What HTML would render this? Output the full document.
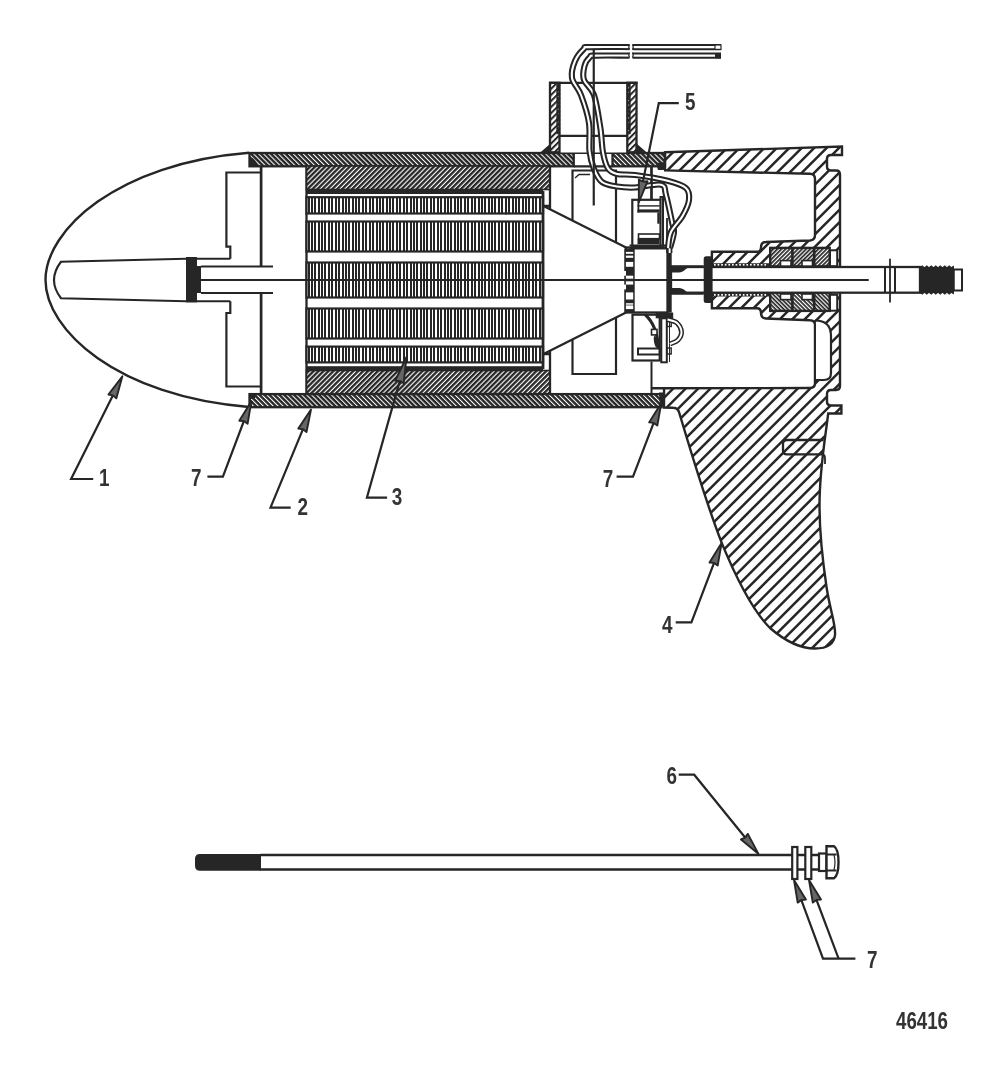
<!DOCTYPE html>
<html><head><meta charset="utf-8">
<style>
html,body{margin:0;padding:0;background:#fff;}
body{width:1008px;height:1076px;overflow:hidden;}
svg{display:block;}
text{font-family:"Liberation Sans",sans-serif;font-weight:bold;fill:#333;}
</style></head>
<body>
<svg width="1008" height="1076" viewBox="0 0 1008 1076">
<defs>
<pattern id="hH" patternUnits="userSpaceOnUse" width="3.5" height="3.5" patternTransform="rotate(45)"><rect width="3.5" height="3.5" fill="#fff"/><rect width="3.5" height="2.45" fill="#262626"/></pattern>
<pattern id="hM" patternUnits="userSpaceOnUse" width="3.5" height="3.5" patternTransform="rotate(-45)"><rect width="3.5" height="3.5" fill="#fff"/><rect width="3.5" height="2.35" fill="#262626"/></pattern>
<pattern id="hL" patternUnits="userSpaceOnUse" width="8.8" height="8.8" patternTransform="rotate(-45)"><rect width="8.8" height="8.8" fill="#fff"/><rect width="8.8" height="2.5" fill="#262626"/></pattern>
<pattern id="hS" patternUnits="userSpaceOnUse" width="6.5" height="6.5" patternTransform="rotate(-45)"><rect width="6.5" height="6.5" fill="#fff"/><rect width="6.5" height="2.3" fill="#262626"/></pattern>
<pattern id="hA" patternUnits="userSpaceOnUse" width="3.5" height="10"><rect width="3.5" height="10" fill="#fff"/><rect width="2.3" height="10" fill="#262626"/></pattern>
<pattern id="hH2" patternUnits="userSpaceOnUse" width="3.5" height="3.5" patternTransform="rotate(45)"><rect width="3.5" height="3.5" fill="#fff"/><rect width="3.5" height="1.7" fill="#262626"/></pattern>
<pattern id="hB" patternUnits="userSpaceOnUse" width="2.9" height="2.9" patternTransform="rotate(-45)"><rect width="2.9" height="2.9" fill="#fff"/><rect width="2.9" height="1.7" fill="#262626"/></pattern>
<pattern id="hB2" patternUnits="userSpaceOnUse" width="2.9" height="2.9" patternTransform="rotate(45)"><rect width="2.9" height="2.9" fill="#fff"/><rect width="2.9" height="1.7" fill="#262626"/></pattern>
<pattern id="hT" patternUnits="userSpaceOnUse" width="4.3" height="4.3" patternTransform="rotate(-45)"><rect width="4.3" height="4.3" fill="#fff"/><rect width="4.3" height="2" fill="#262626"/></pattern>
</defs>
<clipPath id="cp1"><path d="M665,152.3 L842,146.5 L842,155 L831,155 Q827,155 827,159 L827,166.5 Q827,170.5 831,170.5 L836,170.5 Q840,170.5 840,174.5 L840,386 Q840,390 836,390 L831,390 Q827,390 827,394 L827,401.5 Q827,405.5 831,405.5 L841.4,405.5 L841.4,413.5 L828.2,413.5 C825,440 819.5,470 819.5,505 C819.5,540 824,570 826.6,587.5 C830,610 836,625 835,635 C834,645 826,648.5 815,648.5 C800,648.5 785,641 770,628 C752,610 735,575 722,543.6 C705,500 692,455 679,412 Q677.5,407.7 673,407.7 L664,407.5 Z"/></clipPath>
<path d="M665,152.3 L842,146.5 L842,155 L831,155 Q827,155 827,159 L827,166.5 Q827,170.5 831,170.5 L836,170.5 Q840,170.5 840,174.5 L840,386 Q840,390 836,390 L831,390 Q827,390 827,394 L827,401.5 Q827,405.5 831,405.5 L841.4,405.5 L841.4,413.5 L828.2,413.5 C825,440 819.5,470 819.5,505 C819.5,540 824,570 826.6,587.5 C830,610 836,625 835,635 C834,645 826,648.5 815,648.5 C800,648.5 785,641 770,628 C752,610 735,575 722,543.6 C705,500 692,455 679,412 Q677.5,407.7 673,407.7 L664,407.5 Z" fill="#fff"/>
<g clip-path="url(#cp1)"><path d="M140.30,660.00L660.30,140.00M152.75,660.00L672.75,140.00M165.20,660.00L685.20,140.00M177.65,660.00L697.65,140.00M190.10,660.00L710.10,140.00M202.55,660.00L722.55,140.00M215.00,660.00L735.00,140.00M227.45,660.00L747.45,140.00M239.90,660.00L759.90,140.00M252.35,660.00L772.35,140.00M264.80,660.00L784.80,140.00M277.25,660.00L797.25,140.00M289.70,660.00L809.70,140.00M302.15,660.00L822.15,140.00M314.60,660.00L834.60,140.00M327.05,660.00L847.05,140.00M339.50,660.00L859.50,140.00M351.95,660.00L871.95,140.00M364.40,660.00L884.40,140.00M376.85,660.00L896.85,140.00M389.30,660.00L909.30,140.00M401.75,660.00L921.75,140.00M414.20,660.00L934.20,140.00M426.65,660.00L946.65,140.00M439.10,660.00L959.10,140.00M451.55,660.00L971.55,140.00M464.00,660.00L984.00,140.00M476.45,660.00L996.45,140.00M488.90,660.00L1008.90,140.00M501.35,660.00L1021.35,140.00M513.80,660.00L1033.80,140.00M526.25,660.00L1046.25,140.00M538.70,660.00L1058.70,140.00M551.15,660.00L1071.15,140.00M563.60,660.00L1083.60,140.00M576.05,660.00L1096.05,140.00M588.50,660.00L1108.50,140.00M600.95,660.00L1120.95,140.00M613.40,660.00L1133.40,140.00M625.85,660.00L1145.85,140.00M638.30,660.00L1158.30,140.00M650.75,660.00L1170.75,140.00M663.20,660.00L1183.20,140.00M675.65,660.00L1195.65,140.00M688.10,660.00L1208.10,140.00M700.55,660.00L1220.55,140.00M713.00,660.00L1233.00,140.00M725.45,660.00L1245.45,140.00M737.90,660.00L1257.90,140.00M750.35,660.00L1270.35,140.00M762.80,660.00L1282.80,140.00M775.25,660.00L1295.25,140.00M787.70,660.00L1307.70,140.00M800.15,660.00L1320.15,140.00M812.60,660.00L1332.60,140.00M825.05,660.00L1345.05,140.00M837.50,660.00L1357.50,140.00M849.95,660.00L1369.95,140.00" stroke="#262626" stroke-width="2.5" fill="none"/></g>
<path d="M665,152.3 L842,146.5 L842,155 L831,155 Q827,155 827,159 L827,166.5 Q827,170.5 831,170.5 L836,170.5 Q840,170.5 840,174.5 L840,386 Q840,390 836,390 L831,390 Q827,390 827,394 L827,401.5 Q827,405.5 831,405.5 L841.4,405.5 L841.4,413.5 L828.2,413.5 C825,440 819.5,470 819.5,505 C819.5,540 824,570 826.6,587.5 C830,610 836,625 835,635 C834,645 826,648.5 815,648.5 C800,648.5 785,641 770,628 C752,610 735,575 722,543.6 C705,500 692,455 679,412 Q677.5,407.7 673,407.7 L664,407.5 Z" fill="none" stroke="#262626" stroke-width="2.4"/>
<path d="M823.6,440 L787,440 Q783,440 783,444 L783,450.5 Q783,454.3 787,454.3 L823.6,454.3" fill="none" stroke="#262626" stroke-width="2.3" />
<path d="M823,454.3 Q825,455 825,458 V464" fill="none" stroke="#262626" stroke-width="1.8" />
<path d="M651,168 L664,168 L664,170.4 L810,173.75 Q815,174 815,179 L815,383 Q815,388 810,388 L651,388.3 Z" fill="#fff"/>
<clipPath id="cp2"><path d="M711.9,251.8 L757,251.8 Q761,251.8 761,247.5 Q761,242 766,242 L810,240.5 Q815,240 815,235 L816,235 L816,325 L815,325 Q815,320.2 810,320.2 L766,318.5 Q761,318.3 761,313 Q761,308.3 757,308.3 L711.9,308.3 Z"/></clipPath>
<path d="M711.9,251.8 L757,251.8 Q761,251.8 761,247.5 Q761,242 766,242 L810,240.5 Q815,240 815,235 L816,235 L816,325 L815,325 Q815,320.2 810,320.2 L766,318.5 Q761,318.3 761,313 Q761,308.3 757,308.3 L711.9,308.3 Z" fill="#fff"/>
<g clip-path="url(#cp2)"><path d="M607.25,330.00L707.25,230.00M619.70,330.00L719.70,230.00M632.15,330.00L732.15,230.00M644.60,330.00L744.60,230.00M657.05,330.00L757.05,230.00M669.50,330.00L769.50,230.00M681.95,330.00L781.95,230.00M694.40,330.00L794.40,230.00M706.85,330.00L806.85,230.00M719.30,330.00L819.30,230.00M731.75,330.00L831.75,230.00M744.20,330.00L844.20,230.00M756.65,330.00L856.65,230.00M769.10,330.00L869.10,230.00M781.55,330.00L881.55,230.00M794.00,330.00L894.00,230.00M806.45,330.00L906.45,230.00M818.90,330.00L918.90,230.00" stroke="#262626" stroke-width="2.5" fill="none"/></g>
<path d="M664,170.4 L810,173.75 Q815,174 815,179 L815,235 Q815,240 810,240.5 L766,242 Q761,242 761,247.5 Q761,251.8 757,251.8 L711.9,251.8 L711.9,308.3 L757,308.3 Q761,308.3 761,313 Q761,318.3 766,318.5 L810,320.2 Q815,320.2 815,325 L815,383 Q815,388 810,388 L652,388.3" fill="none" stroke="#262626" stroke-width="2.4" />
<path d="M816,321.5 Q830,321.5 830,336 L830,373 Q830,379.5 823,379.5 L816,379.5 Z" fill="#fff"/>
<path d="M815,320.5 Q831,320.5 831,336 L831,373 Q831,380 824,380 L815,380" fill="none" stroke="#262626" stroke-width="2.2" />
<rect x="770.2" y="247.9" width="59.5" height="18.5" fill="url(#hB)" stroke="#262626" stroke-width="2.4" />
<path d="M792.4,247.9 V266.4 M814.2,247.9 V266.4" fill="none" stroke="#262626" stroke-width="2.6" />
<rect x="780.5" y="260.6" width="10.5" height="5.6" fill="#fff" stroke="#262626" stroke-width="1.6" />
<rect x="802" y="260.6" width="10.5" height="5.6" fill="#fff" stroke="#262626" stroke-width="1.6" />
<rect x="830" y="250.3" width="7.2" height="15.9" fill="#fff" stroke="#262626" stroke-width="2.0" />
<rect x="770.2" y="292.4" width="59.5" height="18.5" fill="url(#hB2)" stroke="#262626" stroke-width="2.4" />
<path d="M792.4,292.4 V310.9 M814.2,292.4 V310.9" fill="none" stroke="#262626" stroke-width="2.6" />
<rect x="780.5" y="294" width="10.5" height="5.6" fill="#fff" stroke="#262626" stroke-width="1.6" />
<rect x="802" y="294" width="10.5" height="5.6" fill="#fff" stroke="#262626" stroke-width="1.6" />
<rect x="830" y="294.79999999999995" width="7.2" height="15.9" fill="#fff" stroke="#262626" stroke-width="2.0" />
<path d="M712,264.9 H770" stroke="#262626" stroke-width="3.4"/>
<path d="M714,264.9 H768" stroke="#fff" stroke-width="1.6" stroke-dasharray="1.7,1.9"/>
<path d="M712,294.9 H770" stroke="#262626" stroke-width="3.4"/>
<path d="M714,294.9 H768" stroke="#fff" stroke-width="1.6" stroke-dasharray="1.7,1.9"/>
<path d="M249,152.7 C117,163.3 45.5,230 45.5,280 C45.5,330 117,396.4 249,407" fill="none" stroke="#262626" stroke-width="2.4" />
<path d="M186,258.75 L61,261.75 Q47,280 61,298.25 L186,301.25" fill="#fff" stroke="#262626" stroke-width="2.1" />
<rect x="186" y="257" width="11" height="45.5" fill="#262626" stroke="none" />
<rect x="196" y="266" width="5" height="27" fill="#262626" stroke="none" />
<path d="M197,258.75 H230.3 M201,266.5 H273 M201,293 H273 M197,301.25 H230.3 M201,280 H306.5" fill="none" stroke="#262626" stroke-width="2.0" />
<path d="M261,172.5 H226.4 V246.7 H230.3 V258.75 M230.3,301.25 V313 H226.4 V386.5 H261" fill="none" stroke="#262626" stroke-width="2.2" />
<path d="M261.1,166 V266.5 M261.1,293 V394" fill="none" stroke="#262626" stroke-width="2.7" />
<path d="M306.5,166 V394" fill="none" stroke="#262626" stroke-width="2.3" />
<rect x="249.5" y="153" width="324.25" height="13.3" fill="url(#hH)" stroke="#262626" stroke-width="2.3" />
<rect x="612.5" y="153" width="52.5" height="13.3" fill="url(#hH)" stroke="#262626" stroke-width="2.3" />
<path d="M573.75,153 H612.5 M573.75,166.3 H612.5" fill="none" stroke="#262626" stroke-width="2.2" />
<rect x="249.5" y="394.1" width="412" height="13.1" fill="url(#hH)" stroke="#262626" stroke-width="2.3" />
<path d="M249.5,157 Q255,158 258,166 L249.5,167 Z" fill="#262626"/>
<path d="M249.5,393 L256,393 Q252,396 249.5,401 Z" fill="#262626"/>
<circle cx="252.5" cy="396" r="3" fill="#262626"/>
<path d="M656,163 L665,162 L665,170 L658,170 Z" fill="#262626"/>
<path d="M659,392.5 L664.5,392.5 L664.5,407 L660,407 Z" fill="#262626"/>
<rect x="306.5" y="166" width="243.5" height="23.5" fill="url(#hM)" stroke="#262626" stroke-width="1.6" />
<rect x="306.5" y="370.5" width="243.5" height="23.2" fill="url(#hM)" stroke="#262626" stroke-width="1.6" />
<rect x="306.5" y="189" width="236.5" height="5" fill="#262626" stroke="none" />
<rect x="306.5" y="366.2" width="236.5" height="4.5" fill="#262626" stroke="none" />
<rect x="306.5" y="197.2" width="236.5" height="16.3" fill="#fff" stroke="none" />
<path d="M308,197.2h2v16.3h-2zM311,197.2h2v16.3h-2zM314,197.2h2v16.3h-2zM318,197.2h2v16.3h-2zM321,197.2h2v16.3h-2zM324,197.2h2v16.3h-2zM328,197.2h2v16.3h-2zM331,197.2h2v16.3h-2zM335,197.2h2v16.3h-2zM338,197.2h2v16.3h-2zM342,197.2h2v16.3h-2zM345,197.2h2v16.3h-2zM348,197.2h2v16.3h-2zM352,197.2h2v16.3h-2zM355,197.2h2v16.3h-2zM358,197.2h2v16.3h-2zM362,197.2h2v16.3h-2zM365,197.2h2v16.3h-2zM369,197.2h2v16.3h-2zM372,197.2h2v16.3h-2zM376,197.2h2v16.3h-2zM379,197.2h2v16.3h-2zM382,197.2h2v16.3h-2zM386,197.2h2v16.3h-2zM389,197.2h2v16.3h-2zM392,197.2h2v16.3h-2zM396,197.2h2v16.3h-2zM399,197.2h2v16.3h-2zM403,197.2h2v16.3h-2zM406,197.2h2v16.3h-2zM410,197.2h2v16.3h-2zM413,197.2h2v16.3h-2zM416,197.2h2v16.3h-2zM420,197.2h2v16.3h-2zM423,197.2h2v16.3h-2zM426,197.2h2v16.3h-2zM430,197.2h2v16.3h-2zM433,197.2h2v16.3h-2zM437,197.2h2v16.3h-2zM440,197.2h2v16.3h-2zM444,197.2h2v16.3h-2zM447,197.2h2v16.3h-2zM450,197.2h2v16.3h-2zM454,197.2h2v16.3h-2zM457,197.2h2v16.3h-2zM460,197.2h2v16.3h-2zM464,197.2h2v16.3h-2zM467,197.2h2v16.3h-2zM471,197.2h2v16.3h-2zM474,197.2h2v16.3h-2zM478,197.2h2v16.3h-2zM481,197.2h2v16.3h-2zM484,197.2h2v16.3h-2zM488,197.2h2v16.3h-2zM491,197.2h2v16.3h-2zM494,197.2h2v16.3h-2zM498,197.2h2v16.3h-2zM501,197.2h2v16.3h-2zM505,197.2h2v16.3h-2zM508,197.2h2v16.3h-2zM512,197.2h2v16.3h-2zM515,197.2h2v16.3h-2zM518,197.2h2v16.3h-2zM522,197.2h2v16.3h-2zM525,197.2h2v16.3h-2zM528,197.2h2v16.3h-2zM532,197.2h2v16.3h-2zM535,197.2h2v16.3h-2zM539,197.2h2v16.3h-2z" fill="#262626"/>
<rect x="306.5" y="197.2" width="236.5" height="16.3" fill="none" stroke="#262626" stroke-width="2.2" />
<rect x="306.5" y="221.5" width="236.5" height="30" fill="#fff" stroke="none" />
<path d="M308,221.5h2v30.0h-2zM311,221.5h2v30.0h-2zM314,221.5h2v30.0h-2zM318,221.5h2v30.0h-2zM321,221.5h2v30.0h-2zM324,221.5h2v30.0h-2zM328,221.5h2v30.0h-2zM331,221.5h2v30.0h-2zM335,221.5h2v30.0h-2zM338,221.5h2v30.0h-2zM342,221.5h2v30.0h-2zM345,221.5h2v30.0h-2zM348,221.5h2v30.0h-2zM352,221.5h2v30.0h-2zM355,221.5h2v30.0h-2zM358,221.5h2v30.0h-2zM362,221.5h2v30.0h-2zM365,221.5h2v30.0h-2zM369,221.5h2v30.0h-2zM372,221.5h2v30.0h-2zM376,221.5h2v30.0h-2zM379,221.5h2v30.0h-2zM382,221.5h2v30.0h-2zM386,221.5h2v30.0h-2zM389,221.5h2v30.0h-2zM392,221.5h2v30.0h-2zM396,221.5h2v30.0h-2zM399,221.5h2v30.0h-2zM403,221.5h2v30.0h-2zM406,221.5h2v30.0h-2zM410,221.5h2v30.0h-2zM413,221.5h2v30.0h-2zM416,221.5h2v30.0h-2zM420,221.5h2v30.0h-2zM423,221.5h2v30.0h-2zM426,221.5h2v30.0h-2zM430,221.5h2v30.0h-2zM433,221.5h2v30.0h-2zM437,221.5h2v30.0h-2zM440,221.5h2v30.0h-2zM444,221.5h2v30.0h-2zM447,221.5h2v30.0h-2zM450,221.5h2v30.0h-2zM454,221.5h2v30.0h-2zM457,221.5h2v30.0h-2zM460,221.5h2v30.0h-2zM464,221.5h2v30.0h-2zM467,221.5h2v30.0h-2zM471,221.5h2v30.0h-2zM474,221.5h2v30.0h-2zM478,221.5h2v30.0h-2zM481,221.5h2v30.0h-2zM484,221.5h2v30.0h-2zM488,221.5h2v30.0h-2zM491,221.5h2v30.0h-2zM494,221.5h2v30.0h-2zM498,221.5h2v30.0h-2zM501,221.5h2v30.0h-2zM505,221.5h2v30.0h-2zM508,221.5h2v30.0h-2zM512,221.5h2v30.0h-2zM515,221.5h2v30.0h-2zM518,221.5h2v30.0h-2zM522,221.5h2v30.0h-2zM525,221.5h2v30.0h-2zM528,221.5h2v30.0h-2zM532,221.5h2v30.0h-2zM535,221.5h2v30.0h-2zM539,221.5h2v30.0h-2z" fill="#262626"/>
<rect x="306.5" y="221.5" width="236.5" height="30" fill="none" stroke="#262626" stroke-width="2.2" />
<rect x="306.5" y="262.5" width="236.5" height="35" fill="#fff" stroke="none" />
<path d="M308,262.5h2v35.0h-2zM311,262.5h2v35.0h-2zM314,262.5h2v35.0h-2zM318,262.5h2v35.0h-2zM321,262.5h2v35.0h-2zM324,262.5h2v35.0h-2zM328,262.5h2v35.0h-2zM331,262.5h2v35.0h-2zM335,262.5h2v35.0h-2zM338,262.5h2v35.0h-2zM342,262.5h2v35.0h-2zM345,262.5h2v35.0h-2zM348,262.5h2v35.0h-2zM352,262.5h2v35.0h-2zM355,262.5h2v35.0h-2zM358,262.5h2v35.0h-2zM362,262.5h2v35.0h-2zM365,262.5h2v35.0h-2zM369,262.5h2v35.0h-2zM372,262.5h2v35.0h-2zM376,262.5h2v35.0h-2zM379,262.5h2v35.0h-2zM382,262.5h2v35.0h-2zM386,262.5h2v35.0h-2zM389,262.5h2v35.0h-2zM392,262.5h2v35.0h-2zM396,262.5h2v35.0h-2zM399,262.5h2v35.0h-2zM403,262.5h2v35.0h-2zM406,262.5h2v35.0h-2zM410,262.5h2v35.0h-2zM413,262.5h2v35.0h-2zM416,262.5h2v35.0h-2zM420,262.5h2v35.0h-2zM423,262.5h2v35.0h-2zM426,262.5h2v35.0h-2zM430,262.5h2v35.0h-2zM433,262.5h2v35.0h-2zM437,262.5h2v35.0h-2zM440,262.5h2v35.0h-2zM444,262.5h2v35.0h-2zM447,262.5h2v35.0h-2zM450,262.5h2v35.0h-2zM454,262.5h2v35.0h-2zM457,262.5h2v35.0h-2zM460,262.5h2v35.0h-2zM464,262.5h2v35.0h-2zM467,262.5h2v35.0h-2zM471,262.5h2v35.0h-2zM474,262.5h2v35.0h-2zM478,262.5h2v35.0h-2zM481,262.5h2v35.0h-2zM484,262.5h2v35.0h-2zM488,262.5h2v35.0h-2zM491,262.5h2v35.0h-2zM494,262.5h2v35.0h-2zM498,262.5h2v35.0h-2zM501,262.5h2v35.0h-2zM505,262.5h2v35.0h-2zM508,262.5h2v35.0h-2zM512,262.5h2v35.0h-2zM515,262.5h2v35.0h-2zM518,262.5h2v35.0h-2zM522,262.5h2v35.0h-2zM525,262.5h2v35.0h-2zM528,262.5h2v35.0h-2zM532,262.5h2v35.0h-2zM535,262.5h2v35.0h-2zM539,262.5h2v35.0h-2z" fill="#262626"/>
<rect x="306.5" y="262.5" width="236.5" height="35" fill="none" stroke="#262626" stroke-width="2.2" />
<rect x="306.5" y="308.5" width="236.5" height="30" fill="#fff" stroke="none" />
<path d="M308,308.5h2v30.0h-2zM311,308.5h2v30.0h-2zM314,308.5h2v30.0h-2zM318,308.5h2v30.0h-2zM321,308.5h2v30.0h-2zM324,308.5h2v30.0h-2zM328,308.5h2v30.0h-2zM331,308.5h2v30.0h-2zM335,308.5h2v30.0h-2zM338,308.5h2v30.0h-2zM342,308.5h2v30.0h-2zM345,308.5h2v30.0h-2zM348,308.5h2v30.0h-2zM352,308.5h2v30.0h-2zM355,308.5h2v30.0h-2zM358,308.5h2v30.0h-2zM362,308.5h2v30.0h-2zM365,308.5h2v30.0h-2zM369,308.5h2v30.0h-2zM372,308.5h2v30.0h-2zM376,308.5h2v30.0h-2zM379,308.5h2v30.0h-2zM382,308.5h2v30.0h-2zM386,308.5h2v30.0h-2zM389,308.5h2v30.0h-2zM392,308.5h2v30.0h-2zM396,308.5h2v30.0h-2zM399,308.5h2v30.0h-2zM403,308.5h2v30.0h-2zM406,308.5h2v30.0h-2zM410,308.5h2v30.0h-2zM413,308.5h2v30.0h-2zM416,308.5h2v30.0h-2zM420,308.5h2v30.0h-2zM423,308.5h2v30.0h-2zM426,308.5h2v30.0h-2zM430,308.5h2v30.0h-2zM433,308.5h2v30.0h-2zM437,308.5h2v30.0h-2zM440,308.5h2v30.0h-2zM444,308.5h2v30.0h-2zM447,308.5h2v30.0h-2zM450,308.5h2v30.0h-2zM454,308.5h2v30.0h-2zM457,308.5h2v30.0h-2zM460,308.5h2v30.0h-2zM464,308.5h2v30.0h-2zM467,308.5h2v30.0h-2zM471,308.5h2v30.0h-2zM474,308.5h2v30.0h-2zM478,308.5h2v30.0h-2zM481,308.5h2v30.0h-2zM484,308.5h2v30.0h-2zM488,308.5h2v30.0h-2zM491,308.5h2v30.0h-2zM494,308.5h2v30.0h-2zM498,308.5h2v30.0h-2zM501,308.5h2v30.0h-2zM505,308.5h2v30.0h-2zM508,308.5h2v30.0h-2zM512,308.5h2v30.0h-2zM515,308.5h2v30.0h-2zM518,308.5h2v30.0h-2zM522,308.5h2v30.0h-2zM525,308.5h2v30.0h-2zM528,308.5h2v30.0h-2zM532,308.5h2v30.0h-2zM535,308.5h2v30.0h-2zM539,308.5h2v30.0h-2z" fill="#262626"/>
<rect x="306.5" y="308.5" width="236.5" height="30" fill="none" stroke="#262626" stroke-width="2.2" />
<rect x="306.5" y="346.6" width="236.5" height="15.8" fill="#fff" stroke="none" />
<path d="M308,346.6h2v15.8h-2zM311,346.6h2v15.8h-2zM314,346.6h2v15.8h-2zM318,346.6h2v15.8h-2zM321,346.6h2v15.8h-2zM324,346.6h2v15.8h-2zM328,346.6h2v15.8h-2zM331,346.6h2v15.8h-2zM335,346.6h2v15.8h-2zM338,346.6h2v15.8h-2zM342,346.6h2v15.8h-2zM345,346.6h2v15.8h-2zM348,346.6h2v15.8h-2zM352,346.6h2v15.8h-2zM355,346.6h2v15.8h-2zM358,346.6h2v15.8h-2zM362,346.6h2v15.8h-2zM365,346.6h2v15.8h-2zM369,346.6h2v15.8h-2zM372,346.6h2v15.8h-2zM376,346.6h2v15.8h-2zM379,346.6h2v15.8h-2zM382,346.6h2v15.8h-2zM386,346.6h2v15.8h-2zM389,346.6h2v15.8h-2zM392,346.6h2v15.8h-2zM396,346.6h2v15.8h-2zM399,346.6h2v15.8h-2zM403,346.6h2v15.8h-2zM406,346.6h2v15.8h-2zM410,346.6h2v15.8h-2zM413,346.6h2v15.8h-2zM416,346.6h2v15.8h-2zM420,346.6h2v15.8h-2zM423,346.6h2v15.8h-2zM426,346.6h2v15.8h-2zM430,346.6h2v15.8h-2zM433,346.6h2v15.8h-2zM437,346.6h2v15.8h-2zM440,346.6h2v15.8h-2zM444,346.6h2v15.8h-2zM447,346.6h2v15.8h-2zM450,346.6h2v15.8h-2zM454,346.6h2v15.8h-2zM457,346.6h2v15.8h-2zM460,346.6h2v15.8h-2zM464,346.6h2v15.8h-2zM467,346.6h2v15.8h-2zM471,346.6h2v15.8h-2zM474,346.6h2v15.8h-2zM478,346.6h2v15.8h-2zM481,346.6h2v15.8h-2zM484,346.6h2v15.8h-2zM488,346.6h2v15.8h-2zM491,346.6h2v15.8h-2zM494,346.6h2v15.8h-2zM498,346.6h2v15.8h-2zM501,346.6h2v15.8h-2zM505,346.6h2v15.8h-2zM508,346.6h2v15.8h-2zM512,346.6h2v15.8h-2zM515,346.6h2v15.8h-2zM518,346.6h2v15.8h-2zM522,346.6h2v15.8h-2zM525,346.6h2v15.8h-2zM528,346.6h2v15.8h-2zM532,346.6h2v15.8h-2zM535,346.6h2v15.8h-2zM539,346.6h2v15.8h-2z" fill="#262626"/>
<rect x="306.5" y="346.6" width="236.5" height="15.8" fill="none" stroke="#262626" stroke-width="2.2" />
<path d="M306.5,280 H626" fill="none" stroke="#262626" stroke-width="2.0" />
<path d="M506,197 V214.5 M506,221.5 V251.5 M506,262.5 V297.5 M506,308.5 V338.5 M506,346.6 V362.4" fill="none" stroke="#262626" stroke-width="1.4" />
<path d="M543,191 V369" fill="none" stroke="#262626" stroke-width="2.8" />
<path d="M543.5,206 L626,247.5 M543.5,354 L626,312.5" fill="none" stroke="#262626" stroke-width="2.3" />
<path d="M550,166 V210 M550,350 V394 M543,206 H550 M543,354 H550" fill="none" stroke="#262626" stroke-width="2.3" />
<path d="M572.5,221 V170.5 H616 V243 M572.5,339 V374 H616 V317" fill="none" stroke="#262626" stroke-width="2.2" />
<path d="M575,178 L579,174.5 H590" fill="none" stroke="#262626" stroke-width="1.4" />
<path d="M651.2,166 V199" fill="none" stroke="#262626" stroke-width="2.1" />
<rect x="671" y="267" width="249" height="25.7" fill="#fff" stroke="#262626" stroke-width="2.3" />
<path d="M712,280 H868.75 M885,267 V292.7 M895,267 V292.7" fill="none" stroke="#262626" stroke-width="2.0" />
<path d="M890,258.75 V302.5" fill="none" stroke="#262626" stroke-width="1.8" />
<rect x="920" y="267" width="34" height="26" fill="#262626"/>
<path d="M920,268 L922.25,266 L924.50,268 L926.75,266 L929.00,268 L931.25,266 L933.50,268 L935.75,266 L938.00,268 L940.25,266 L942.50,268 L944.75,266 L947.00,268 L949.25,266 L951.50,268 L953.75,266" stroke="#262626" stroke-width="1.2" fill="none"/>
<path d="M920,292 L922.25,294 L924.50,292 L926.75,294 L929.00,292 L931.25,294 L933.50,292 L935.75,294 L938.00,292 L940.25,294 L942.50,292 L944.75,294 L947.00,292 L949.25,294 L951.50,292 L953.75,294" stroke="#262626" stroke-width="1.2" fill="none"/>
<rect x="953.75" y="269.5" width="8.25" height="21" fill="#fff" stroke="#262626" stroke-width="2.0" />
<rect x="703.7" y="256.25" width="8.9" height="46.85" rx="2.5" fill="#262626"/>
<path d="M671,265.3 L703.6,265.3 L703.6,267.8 L689,267.8 C685.5,268 684,272.6 679,272.6 L671,272.6 Z" fill="#262626"/>
<path d="M671,294.7 L703.6,294.7 L703.6,292.4 L689,292.4 C685.5,292.2 684,288 679,288 L671,288 Z" fill="#262626"/>
<path d="M671,279.9 H704" fill="none" stroke="#262626" stroke-width="2.0" />
<rect x="626" y="247.5" width="41.5" height="65" fill="#fff" stroke="#262626" stroke-width="2.3" />
<rect x="667.5" y="253" width="4.2" height="59.5" fill="#262626" stroke="none" />
<rect x="624.3" y="248.5" width="10.4" height="63.5" fill="#262626" stroke="none" />
<rect x="625.9" y="251.9" width="7.3" height="1.9000000000000057" fill="#fff" stroke="none" />
<rect x="625.9" y="255.6" width="7.3" height="2.200000000000017" fill="#fff" stroke="none" />
<rect x="625.9" y="261.9" width="7.3" height="4.900000000000034" fill="#fff" stroke="none" />
<rect x="625.9" y="275.7" width="7.3" height="3.0" fill="#fff" stroke="none" />
<rect x="625.9" y="281.3" width="7.3" height="3.3000000000000114" fill="#fff" stroke="none" />
<rect x="625.9" y="292.4" width="7.3" height="7.100000000000023" fill="#fff" stroke="none" />
<rect x="625.9" y="303.2" width="7.3" height="1.5" fill="#fff" stroke="none" />
<rect x="625.9" y="305.4" width="7.3" height="3.7000000000000455" fill="#fff" stroke="none" />
<rect x="624" y="271" width="2" height="4.699999999999989" fill="#fff" stroke="none" />
<rect x="624" y="284.6" width="2" height="4.7999999999999545" fill="#fff" stroke="none" />
<path d="M626,280 H667" fill="none" stroke="#262626" stroke-width="2.0" />
<rect x="632.3" y="199.8" width="28.2" height="47" fill="#fff" stroke="#262626" stroke-width="2.2" />
<path d="M660.5,199.8 V197.1 H663 V247" fill="none" stroke="#262626" stroke-width="2.0" />
<rect x="637.5" y="200.6" width="1.8" height="12" fill="#262626" stroke="none" />
<rect x="637.5" y="209.4" width="22.2" height="3.1" fill="#262626" stroke="none" />
<rect x="637.5" y="205.2" width="22.2" height="1.4" fill="#262626" stroke="none" />
<rect x="657.3" y="212.5" width="2.4" height="11.2" fill="#262626" stroke="none" />
<rect x="638.5" y="234" width="21" height="4.7" fill="#fff" stroke="#262626" stroke-width="1.6" />
<rect x="637.5" y="238.7" width="22" height="5.6" fill="#262626" stroke="none" />
<path d="M629.5,245.5 H666 M629.5,248.5 H666" fill="none" stroke="#262626" stroke-width="1.8" />
<path d="M667,218 V253 M671.5,218 V253" fill="none" stroke="#262626" stroke-width="1.8" />
<rect x="632.5" y="314.7" width="27.2" height="45.8" fill="#fff" stroke="#262626" stroke-width="2.2" />
<rect x="655.7" y="312.5" width="17.5" height="5.8" fill="#262626" stroke="none" />
<rect x="661.3" y="318.3" width="5.5" height="44" fill="#fff" stroke="#262626" stroke-width="2.0" />
<path d="M645,314.5 Q657,325 658.5,348" fill="none" stroke="#262626" stroke-width="3.0" />
<path d="M654,335.7 Q659,338 659.7,347.6 L656,347.6 Q653,342 654,335.7 Z" fill="#262626"/>
<rect x="651.5" y="329.4" width="5.5" height="5.5" fill="#fff" stroke="#262626" stroke-width="1.6" />
<rect x="638" y="348.5" width="21.5" height="6" fill="#fff" stroke="#262626" stroke-width="2.0" />
<rect x="667.2" y="321.5" width="4" height="5" fill="#fff" stroke="#262626" stroke-width="1.4" />
<rect x="667.2" y="348" width="4" height="6" fill="#fff" stroke="#262626" stroke-width="1.4" />
<path d="M669.5,318.3 V362" fill="none" stroke="#262626" stroke-width="1.0" />
<path d="M667.6,319.5 C669.2,320.1 674.7,320.9 677.0,323.0 C679.3,325.1 681.3,329.2 681.5,332.0 C681.7,334.8 679.9,338.0 678.0,340.0 C676.1,342.0 671.3,343.3 670.0,344.0" stroke="#262626" stroke-width="5" fill="none"/><path d="M667.6,319.5 C669.2,320.1 674.7,320.9 677.0,323.0 C679.3,325.1 681.3,329.2 681.5,332.0 C681.7,334.8 679.9,338.0 678.0,340.0 C676.1,342.0 671.3,343.3 670.0,344.0" stroke="#fff" stroke-width="2" fill="none"/>
<path d="M651.5,361.5 V393" fill="none" stroke="#262626" stroke-width="2.0" />
<rect x="560" y="82.5" width="67.5" height="70" fill="#fff" stroke="none" />
<rect x="550" y="82.8" width="9.5" height="69.5" fill="url(#hT)" stroke="#262626" stroke-width="2.3" />
<rect x="627.3" y="82.8" width="9.2" height="69.5" fill="url(#hT)" stroke="#262626" stroke-width="2.3" />
<path d="M549,82.8 H637.6 M560,135.8 H627.3" fill="none" stroke="#262626" stroke-width="2.3" />
<path d="M556.8,83.5 L560.2,85.7 L556.8,87.8 L560.2,90.0 L556.8,92.1 L560.2,94.2 L556.8,96.4 L560.2,98.5 L556.8,100.7 L560.2,102.8 L556.8,105.0 L560.2,107.1 L556.8,109.3 L560.2,111.4 L556.8,113.6 L560.2,115.7 L556.8,117.9 L560.2,120.0 L556.8,122.2 L560.2,124.3 L556.8,126.5 L560.2,128.6 L556.8,130.8 L560.2,132.9 L556.8,134.0 Z" fill="#262626" stroke="#262626" stroke-width="0.8" stroke-linejoin="round"/>
<path d="M630.2,83.5 L626.8,85.7 L630.2,87.8 L626.8,90.0 L630.2,92.1 L626.8,94.2 L630.2,96.4 L626.8,98.5 L630.2,100.7 L626.8,102.8 L630.2,105.0 L626.8,107.1 L630.2,109.3 L626.8,111.4 L630.2,113.6 L626.8,115.7 L630.2,117.9 L626.8,120.0 L630.2,122.2 L626.8,124.3 L630.2,126.5 L626.8,128.6 L630.2,130.8 L626.8,132.9 L630.2,134.0 Z" fill="#262626" stroke="#262626" stroke-width="0.8" stroke-linejoin="round"/>
<path d="M540,152.8 L550.5,143.5 L550.5,152.8 Z M636.5,143.5 L647,152.8 L636.5,152.8 Z" fill="#262626"/>
<path d="M721.0,47.1 C707.5,47.1 661.8,47.1 640.0,47.1 C618.2,47.1 599.3,46.8 590.0,47.1 C580.7,47.4 586.5,46.5 584.0,48.8 C581.5,51.1 577.0,56.1 575.0,61.0 C573.0,65.9 571.0,72.3 572.0,78.0 C573.0,83.7 578.2,87.5 581.0,95.0 C583.8,102.5 587.6,113.7 589.0,123.0 C590.4,132.3 588.7,143.3 589.5,151.0 C590.3,158.7 591.9,163.8 594.0,169.0 C596.1,174.2 598.2,179.1 602.0,182.0 C605.8,184.9 611.5,185.6 617.0,186.5 C622.5,187.4 627.7,187.8 635.0,187.5 C642.3,187.2 655.8,183.4 661.0,184.7 C666.2,185.9 664.2,188.8 666.0,195.0 C667.8,201.2 670.7,215.8 672.0,222.0 C673.3,228.2 674.3,227.7 674.0,232.0 C673.7,236.3 670.7,245.3 670.0,248.0" stroke="#262626" stroke-width="6.2" fill="none"/>
<path d="M721.0,47.1 C707.5,47.1 661.8,47.1 640.0,47.1 C618.2,47.1 599.3,46.8 590.0,47.1 C580.7,47.4 586.5,46.5 584.0,48.8 C581.5,51.1 577.0,56.1 575.0,61.0 C573.0,65.9 571.0,72.3 572.0,78.0 C573.0,83.7 578.2,87.5 581.0,95.0 C583.8,102.5 587.6,113.7 589.0,123.0 C590.4,132.3 588.7,143.3 589.5,151.0 C590.3,158.7 591.9,163.8 594.0,169.0 C596.1,174.2 598.2,179.1 602.0,182.0 C605.8,184.9 611.5,185.6 617.0,186.5 C622.5,187.4 627.7,187.8 635.0,187.5 C642.3,187.2 655.8,183.4 661.0,184.7 C666.2,185.9 664.2,188.8 666.0,195.0 C667.8,201.2 670.7,215.8 672.0,222.0 C673.3,228.2 674.3,227.7 674.0,232.0 C673.7,236.3 670.7,245.3 670.0,248.0" stroke="#fff" stroke-width="2.1" fill="none"/>
<path d="M721.0,55.6 C707.5,55.6 660.8,55.6 640.0,55.6 C619.2,55.6 604.3,55.4 596.0,55.6 C587.7,55.8 591.9,55.3 590.0,57.0 C588.1,58.7 585.5,62.2 584.5,66.0 C583.5,69.8 582.4,75.2 584.0,80.0 C585.6,84.8 591.3,87.1 594.0,95.0 C596.7,102.9 598.8,117.9 600.3,127.5 C601.8,137.1 601.7,145.8 603.0,152.6 C604.3,159.4 605.7,164.8 608.0,168.4 C610.3,172.0 612.5,172.9 617.0,174.0 C621.5,175.1 626.6,173.9 635.0,175.0 C643.4,176.1 659.1,178.6 667.6,180.8 C676.1,183.0 682.3,184.8 685.9,188.0 C689.5,191.2 689.5,195.4 689.0,200.0 C688.5,204.6 685.7,210.4 682.7,215.7 C679.7,221.0 673.5,226.6 671.0,232.0 C668.5,237.4 668.5,245.3 668.0,248.0" stroke="#262626" stroke-width="6.2" fill="none"/>
<path d="M721.0,55.6 C707.5,55.6 660.8,55.6 640.0,55.6 C619.2,55.6 604.3,55.4 596.0,55.6 C587.7,55.8 591.9,55.3 590.0,57.0 C588.1,58.7 585.5,62.2 584.5,66.0 C583.5,69.8 582.4,75.2 584.0,80.0 C585.6,84.8 591.3,87.1 594.0,95.0 C596.7,102.9 598.8,117.9 600.3,127.5 C601.8,137.1 601.7,145.8 603.0,152.6 C604.3,159.4 605.7,164.8 608.0,168.4 C610.3,172.0 612.5,172.9 617.0,174.0 C621.5,175.1 626.6,173.9 635.0,175.0 C643.4,176.1 659.1,178.6 667.6,180.8 C676.1,183.0 682.3,184.8 685.9,188.0 C689.5,191.2 689.5,195.4 689.0,200.0 C688.5,204.6 685.7,210.4 682.7,215.7 C679.7,221.0 673.5,226.6 671.0,232.0 C668.5,237.4 668.5,245.3 668.0,248.0" stroke="#fff" stroke-width="2.1" fill="none"/>
<rect x="629.5" y="41" width="3" height="18" fill="#fff"/>
<path d="M629.5,44.5 Q628,47 629.5,49.5 M632.5,44.5 Q634,47 632.5,49.5 M629.5,52.5 Q628,55 629.5,57.5 M632.5,52.5 Q634,55 632.5,57.5" fill="none" stroke="#262626" stroke-width="1.3" />
<rect x="715" y="45" width="6" height="4.4" fill="#fff" stroke="#262626" stroke-width="1.2" />
<rect x="715" y="53.2" width="6" height="5" fill="#262626" stroke="none" />
<path d="M593.75,48.75 V205.5" fill="none" stroke="#262626" stroke-width="2.2" />
<path d="M651.8,167 V199.5 M644,184 L639,201" fill="none" stroke="#262626" stroke-width="2.0" />
<path d="M260.4,855 H793.5 M260.4,869.5 H793.5" fill="none" stroke="#262626" stroke-width="2.3" />
<path d="M261,853.9 H200 Q195,853.9 195,858.9 V865.8 Q195,870.8 200,870.8 H261 Z" fill="#262626"/>
<rect x="792.2" y="847" width="5.2" height="32" fill="#fff" stroke="#262626" stroke-width="2.2" />
<rect x="805.3" y="847" width="6" height="32" fill="#fff" stroke="#262626" stroke-width="2.2" />
<path d="M797.3,855 H805 M797.3,869.5 H805 M811.3,855 H819 M811.3,869.5 H819" fill="none" stroke="#262626" stroke-width="2.3" />
<rect x="819" y="853.5" width="7.5" height="17.5" fill="#fff" stroke="#262626" stroke-width="2.2" />
<path d="M826.5,846.3 H834 Q838.5,849 838.5,862.3 Q838.5,875.5 834,878.3 H826.5 Z" fill="#fff" stroke="#262626" stroke-width="2.4" />
<path d="M826.5,854.5 H836.5 M826.5,870.5 H836.5" fill="none" stroke="#262626" stroke-width="1.8" />
<path d="M834,855 Q836,862 834,870" fill="none" stroke="#262626" stroke-width="1.2" />
<path d="M93.2,479.0 H71.1 L121.1,379.0" fill="none" stroke="#262626" stroke-width="2.2"/><path d="M122.4,376.3 L116.3,398.4 L112.9,395.4 L108.4,394.5 Z" fill="#666" stroke="#262626" stroke-width="1.9" stroke-linejoin="round"/><path d="M207.4,476.7 H222.9 L250.3,404.0" fill="none" stroke="#262626" stroke-width="2.2"/><path d="M251.4,401.2 L247.6,423.8 L243.9,421.1 L239.3,420.7 Z" fill="#666" stroke="#262626" stroke-width="1.9" stroke-linejoin="round"/><path d="M290.7,507.6 H270.5 L309.9,412.3" fill="none" stroke="#262626" stroke-width="2.2"/><path d="M311.0,409.5 L306.5,432.0 L302.9,429.2 L298.3,428.6 Z" fill="#666" stroke="#262626" stroke-width="1.9" stroke-linejoin="round"/><path d="M387.1,497.6 H366.9 L405.7,359.9" fill="none" stroke="#262626" stroke-width="2.2"/><path d="M406.5,357.0 L403.7,383.2 L399.8,380.9 L395.2,380.8 Z" fill="#666" stroke="#262626" stroke-width="1.9" stroke-linejoin="round"/><path d="M616.6,476.6 H633.0 L660.2,405.8" fill="none" stroke="#262626" stroke-width="2.2"/><path d="M661.3,403.0 L657.3,425.6 L653.7,422.9 L649.1,422.4 Z" fill="#666" stroke="#262626" stroke-width="1.9" stroke-linejoin="round"/><path d="M675.7,622.3 H691.4 L720.5,545.8" fill="none" stroke="#262626" stroke-width="2.2"/><path d="M721.6,543.0 L717.7,565.6 L714.0,562.9 L709.5,562.5 Z" fill="#666" stroke="#262626" stroke-width="1.9" stroke-linejoin="round"/><path d="M678.8,103.2 H658.8 L639.3,199.6" fill="none" stroke="#262626" stroke-width="2.2"/><path d="M638.8,202.5 L638.9,179.6 L643.0,181.6 L647.5,181.3 Z" fill="#666" stroke="#262626" stroke-width="1.9" stroke-linejoin="round"/><path d="M678.7,774.7 H694.2 L756.7,851.8" fill="none" stroke="#262626" stroke-width="2.2"/><path d="M758.6,854.1 L741.0,839.4 L745.2,837.6 L747.8,833.9 Z" fill="#666" stroke="#262626" stroke-width="1.9" stroke-linejoin="round"/><path d="M855.4,958.6 H823.0 L795.0,882.8" fill="none" stroke="#262626" stroke-width="2.2"/><path d="M794.0,880.0 L805.9,899.6 L801.4,900.0 L797.7,902.6 Z" fill="#666" stroke="#262626" stroke-width="1.9" stroke-linejoin="round"/><path d="M838.6,958.6 H838.6 L810.1,882.8" fill="none" stroke="#262626" stroke-width="2.2"/><path d="M809.0,880.0 L821.0,899.5 L816.5,899.9 L812.8,902.6 Z" fill="#666" stroke="#262626" stroke-width="1.9" stroke-linejoin="round"/>
<g font-size="23" style="filter:grayscale(1)"><text x="98.9" y="486.2" textLength="10.5" lengthAdjust="spacingAndGlyphs">1</text><text x="190.9" y="486.0" textLength="10.5" lengthAdjust="spacingAndGlyphs">7</text><text x="297.4" y="515.0" textLength="10.5" lengthAdjust="spacingAndGlyphs">2</text><text x="391.7" y="505.0" textLength="10.5" lengthAdjust="spacingAndGlyphs">3</text><text x="602.8" y="487.0" textLength="10.5" lengthAdjust="spacingAndGlyphs">7</text><text x="661.9" y="633.2" textLength="10.5" lengthAdjust="spacingAndGlyphs">4</text><text x="685.0" y="110.3" textLength="10.5" lengthAdjust="spacingAndGlyphs">5</text><text x="666.5" y="784.3" textLength="10.5" lengthAdjust="spacingAndGlyphs">6</text><text x="866.9" y="968.2" textLength="10.5" lengthAdjust="spacingAndGlyphs">7</text><text x="896" y="1029" font-size="23.5" textLength="52" lengthAdjust="spacingAndGlyphs">46416</text></g>

</svg>
</body></html>
